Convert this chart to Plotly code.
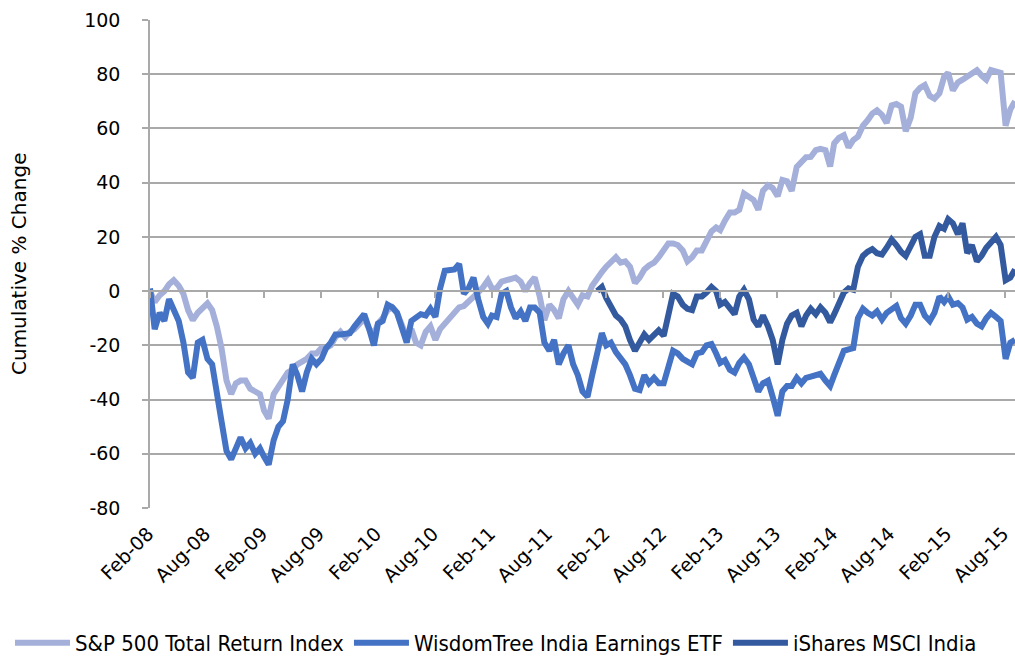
import calendar
import plotly.graph_objects as go

# Semi-monthly observation dates (15th and month-end), Feb-2008 .. Sep-2015
dates = ["2008-02-29"]
for yr in range(2008, 2016):
    for mo in range(1, 13):
        if (yr, mo) < (2008, 3) or (yr, mo) > (2015, 9):
            continue
        dates.append(f"{yr}-{mo:02d}-15")
        dates.append(f"{yr}-{mo:02d}-{calendar.monthrange(yr, mo)[1]:02d}")

sp500 = [
    0, -4, -1.5, 0, 2.5, 4, 2, -1, -7, -10.7,
    -8, -6, -4.5, -7, -13, -21, -33, -38, -34, -33,
    -33, -36, -37, -38, -44, -47, -38, -35, -33, -30,
    -29, -27, -26, -25, -23, -23, -21, -21, -20, -17,
    -15, -17, -15, -14, -12, -10, -14, -16, -12, -10,
    -7, -6, -8, -12, -17, -14, -19, -20, -15, -13,
    -18, -14, -12, -10, -8, -6, -5.5, -4, -2, -0.5,
    1.5, 4, 1, 1, 3.5, 4, 5, 5, 3.5, 0,
    3, 5, -2, -10.7, -5, -7, -10, -3, 0, -3,
    -5, -1.5, -2, 2, 5, 7, 9, 11, 12.5, 10.5,
    11, 9, 3, 5, 8, 9.5, 10.5, 12.5, 15, 17.6,
    17.6, 17, 15, 11, 12.5, 15, 15, 19, 22, 23.5,
    22.5, 26, 29, 29, 30, 36, 35, 33.6, 30, 37,
    39, 38, 35, 41, 40.5, 37, 45.8, 48, 49.4, 49.5,
    52, 52.5, 52, 46, 54.5, 56.5, 57.5, 53, 55.7, 57,
    61, 63, 65.5, 66.7, 65, 62, 68.5, 69, 68, 59,
    64, 73, 75, 76, 72, 71, 73, 79, 80.5, 74,
    77, 78, 79, 80, 81.5, 79.5, 78, 81.5, 81, 80.5,
    61, 67, 70,
]

wisdomtree = [
    1, -14, -8, -11, -3, -7, -11, -19, -30, -32,
    -19, -18, -25, -27, -39, -48, -59, -62, -58, -54,
    -58, -56, -60, -58, -61, -64, -55, -50, -48, -40,
    -27, -31, -37, -30, -25, -27, -25, -21, -19, -16,
    -16, -16, -15.5, -13, -11, -8.5, -14, -20, -12, -11,
    -5, -6, -8, -14, -19, -11, -9.5, -8.5, -9, -6.5,
    -9.5, 1, 7.5, 8, 8, 10, -1, 1, 5, -3,
    -9.5, -12, -9, -9.5, -1, 0, -6, -10, -7.5, -11,
    -6, -6, -8, -19, -22, -18, -27, -23, -20, -27,
    -31, -37, -39, -31, -22, -15.5, -20, -19, -22.5, -25,
    -27, -31, -36, -36.5, -31, -34, -32, -34, -34, -28,
    -22, -23, -25, -26, -27, -23, -22.5, -20, -19.5, -23,
    -26.5, -25.5, -29, -30, -26.5, -24.5, -27, -32, -37, -34,
    -33, -39, -46, -37, -35, -35, -32, -34, -32, -31.5,
    -31, -30.5, -33, -35, -31, -26, -22, -21.5, -21, -10,
    -6.5, -8, -9, -7.5, -10.5, -8, -7, -5.5, -10, -12,
    -9, -5, -5, -9, -11, -8, -2, -4, -2, -5,
    -4.4, -6, -10.5, -9.5, -12, -13, -10, -8, -9.5, -11,
    -25, -19, -18,
]

# iShares MSCI India starts trading in early 2012
ishares_start = "2012-01-31"
ishares = [
    0, 1.5, -2.5, -5.5, -9, -10.5,
    -13, -18, -22, -19, -16, -18, -16, -14.5, -16.5, -9,
    -1, -2, -5, -6.5, -7, -2, -2, -0.5, 1.5, 0,
    -5, -4, -6, -8.5, -2, 0.5, -3, -10.5, -13, -9,
    -13, -18, -27, -18, -12, -9, -8, -13, -9, -6.5,
    -8.5, -6, -8, -11.5, -8.5, -4, -0.5, 1, 0.5, 9,
    13, 14.5, 15.5, 14, 13.5, 16, 19, 17, 14.5, 13,
    17, 20, 21, 13, 13, 20, 24, 23, 26.5, 25,
    21, 25, 14, 17, 11, 13, 16, 18, 20, 17,
    4, 5, 8,
]
ishares_dates = dates[dates.index(ishares_start):]

tick_dates = []
tick_text = []
for yr in range(2008, 2016):
    tick_dates.append(f"{yr}-02-{calendar.monthrange(yr, 2)[1]:02d}")
    tick_text.append(f"Feb-{yr % 100:02d}")
    tick_dates.append(f"{yr}-08-29")
    tick_text.append(f"Aug-{yr % 100:02d}")

y_ticks = [-80, -60, -40, -20, 0, 20, 40, 60, 80, 100]
y_ticktext = [str(v) for v in y_ticks]

names = ["S&P 500 Total Return Index", "WisdomTree India Earnings ETF", "iShares MSCI India"]
colors = ["#A4B0D9", "#4472C4", "#335A9F"]

FONT = "Century Gothic, DejaVu Sans, sans-serif"
GRID = "#A9A9A9"
LW = 6

ML, MR, MT, MB = 150, 0, 20, 151
W, H = 1015, 659
PW = W - ML - MR
PH = H - MT - MB

fig = go.Figure()
fig.add_trace(go.Scatter(x=dates, y=sp500, mode="lines", name=names[0],
                         line=dict(color=colors[0], width=LW)))
fig.add_trace(go.Scatter(x=dates, y=wisdomtree, mode="lines", name=names[1],
                         line=dict(color=colors[1], width=LW)))
fig.add_trace(go.Scatter(x=ishares_dates, y=ishares, mode="lines", name=names[2],
                         line=dict(color=colors[2], width=LW), xaxis="x2"))

xrange = [dates[0], dates[-1]]
fig.update_layout(
    width=W, height=H,
    margin=dict(l=ML, r=MR, t=MT, b=MB, autoexpand=False),
    paper_bgcolor="white", plot_bgcolor="white",
    font=dict(family=FONT, color="black"),
    showlegend=True,
    legend=dict(orientation="h", x=(10 - ML) / PW, xanchor="left",
                y=-(643 - (H - MB)) / PH, yanchor="middle",
                font=dict(family="DejaVu Sans Condensed, " + FONT, size=22),
                itemwidth=55, tracegroupgap=0),
    xaxis=dict(type="date", range=xrange, tickvals=tick_dates, ticktext=tick_text,
               tickangle=-45, tickfont=dict(size=19), showgrid=False, showline=False,
               ticks="", zeroline=False, automargin=False, ticklabelshift=-2,
               ticklabelstandoff=10),
    xaxis2=dict(type="date", overlaying="x", anchor="free", position=80 / 180, side="bottom",
                range=xrange, tickvals=tick_dates, showticklabels=False,
                ticks="outside", ticklen=6, tickcolor=GRID, tickwidth=1.5,
                showline=True, linecolor=GRID, linewidth=1.5, showgrid=False, zeroline=False,
                automargin=False),
    yaxis=dict(range=[-80, 100], tickvals=y_ticks, ticktext=y_ticktext,
               showgrid=True, gridcolor=GRID, gridwidth=1.5,
               zeroline=False, showline=True, linecolor=GRID, linewidth=1.5,
               ticks="outside", ticklen=6, tickcolor=GRID, tickwidth=1.5,
               tickfont=dict(size=19), ticklabelstandoff=18, automargin=False),
    annotations=[dict(text="Cumulative % Change", xref="paper", yref="paper",
                      x=(19 - ML) / PW, y=0.5, xanchor="center", yanchor="middle",
                      textangle=-90, showarrow=False, font=dict(size=20, family=FONT))],
)

fig.write_html("out.html", config={"displayModeBar": False},
               post_script="document.body.style.margin='0';document.body.style.overflow='hidden';")
